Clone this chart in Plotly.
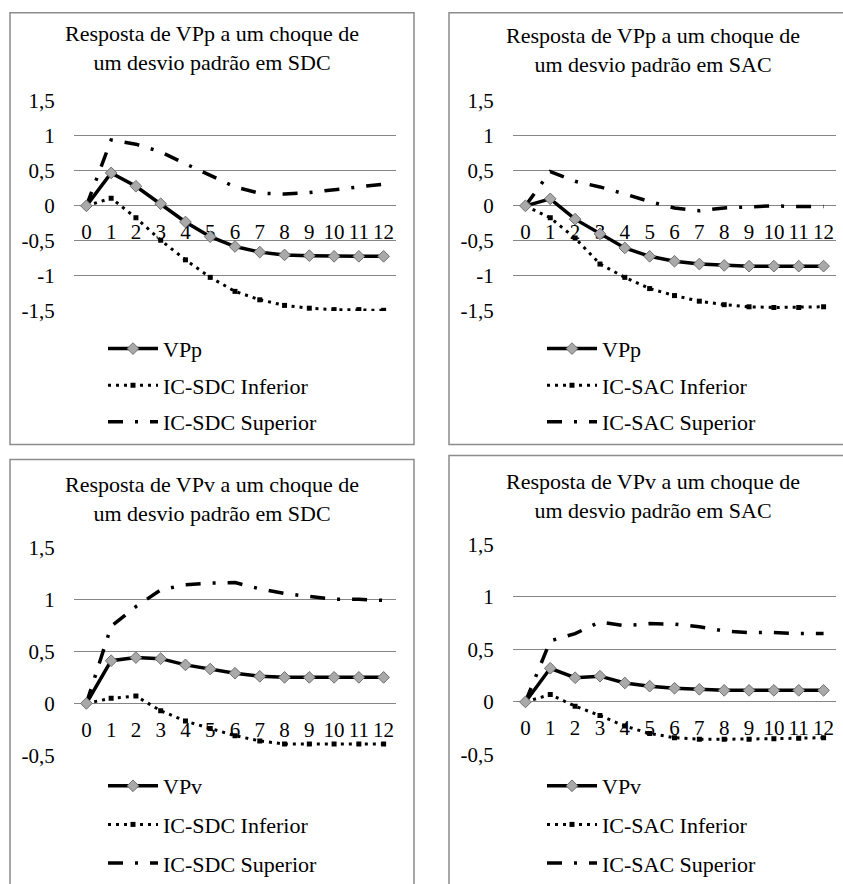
import plotly.graph_objects as go

# Periods after the shock
periods = list(range(13))
period_labels = [str(p) for p in periods]

# Impulse responses of VPp (top row) and VPv (bottom row)
vpp_sdc = [0, 0.47, 0.28, 0.03, -0.23, -0.44, -0.58, -0.66, -0.70, -0.71, -0.72, -0.72, -0.72]
ic_sdc_inf_p = [0, 0.11, -0.17, -0.49, -0.77, -1.02, -1.22, -1.34, -1.42, -1.46, -1.48, -1.48, -1.49]
ic_sdc_sup_p = [0, 0.94, 0.88, 0.77, 0.60, 0.44, 0.27, 0.18, 0.17, 0.19, 0.23, 0.27, 0.31]

vpp_sac = [0, 0.10, -0.19, -0.40, -0.60, -0.72, -0.79, -0.83, -0.85, -0.86, -0.86, -0.86, -0.86]
ic_sac_inf_p = [0, -0.17, -0.46, -0.83, -1.02, -1.18, -1.28, -1.36, -1.41, -1.44, -1.45, -1.45, -1.44]
ic_sac_sup_p = [0, 0.49, 0.35, 0.27, 0.17, 0.06, -0.03, -0.07, -0.03, -0.01, 0.0, -0.01, -0.01]

vpv_sdc = [0, 0.41, 0.44, 0.43, 0.37, 0.33, 0.29, 0.26, 0.25, 0.25, 0.25, 0.25, 0.25]
ic_sdc_inf_v = [0, 0.05, 0.07, -0.07, -0.17, -0.24, -0.31, -0.36, -0.39, -0.39, -0.39, -0.39, -0.39]
ic_sdc_sup_v = [0, 0.74, 0.93, 1.09, 1.14, 1.155, 1.16, 1.10, 1.055, 1.025, 1.0, 1.0, 0.99]

vpv_sac = [0, 0.32, 0.23, 0.245, 0.18, 0.15, 0.13, 0.12, 0.11, 0.11, 0.11, 0.11, 0.11]
ic_sac_inf_v = [0, 0.07, -0.04, -0.13, -0.23, -0.30, -0.34, -0.355, -0.355, -0.355, -0.35, -0.345, -0.34]
ic_sac_sup_v = [0, 0.58, 0.65, 0.76, 0.725, 0.745, 0.74, 0.715, 0.675, 0.66, 0.66, 0.65, 0.65]

# Value-axis ticks (decimal comma)
ticks_top = [-1.5, -1, -0.5, 0, 0.5, 1, 1.5]
ticks_top_text = ["-1,5", "-1", "-0,5", "0", "0,5", "1", "1,5"]
ticks_bottom = [-0.5, 0, 0.5, 1, 1.5]
ticks_bottom_text = ["-0,5", "0", "0,5", "1", "1,5"]

titles = [
    "Resposta de VPp a um choque de<br>um desvio padrão em SDC",
    "Resposta de VPp a um choque de<br>um desvio padrão em SAC",
    "Resposta de VPv a um choque de<br>um desvio padrão em SDC",
    "Resposta de VPv a um choque de<br>um desvio padrão em SAC",
]
resp_names = ["VPp", "VPp", "VPv", "VPv"]
shock_names = ["SDC", "SAC", "SDC", "SAC"]

W, H = 843, 884
FONT = "Liberation Serif, Times New Roman, Tinos, DejaVu Serif, Noto Serif, serif"
GRID = "#868686"


def px_x(v):
    return v / W


def px_y(v):
    return 1 - v / H


# pixel geometry of each chart: plot area (x0, x1, top, bottom), frame, title centre, legend top-left
panels = [
    dict(resp=vpp_sdc, inf=ic_sdc_inf_p, sup=ic_sdc_sup_p, yr=(-1.5, 1.5), tv=ticks_top, tt=ticks_top_text,
         plot=(74, 396, 91.3, 307.7), box=(10, 414, 0.8, 445), title_y=37, legend=(103, 325), gap=5),
    dict(resp=vpp_sac, inf=ic_sac_inf_p, sup=ic_sac_sup_p, yr=(-1.5, 1.5), tv=ticks_top, tt=ticks_top_text,
         plot=(513, 836, 91.3, 307.7), box=(449, 870, 0.8, 445), title_y=39, legend=(542, 325), gap=5),
    dict(resp=vpv_sdc, inf=ic_sdc_inf_v, sup=ic_sdc_sup_v, yr=(-0.5, 1.5), tv=ticks_bottom, tt=ticks_bottom_text,
         plot=(74, 396, 550.8, 765.1), box=(10, 414, 460.5, 900), title_y=501, legend=(103, 775), gap=7),
    dict(resp=vpv_sac, inf=ic_sac_inf_v, sup=ic_sac_sup_v, yr=(-0.5, 1.5), tv=ticks_bottom, tt=ticks_bottom_text,
         plot=(513, 836, 547.7, 764.1), box=(449, 870, 456.4, 900), title_y=498, legend=(542, 775), gap=7),
]

fig = go.Figure()
layout = dict(
    width=W, height=H, autosize=False,
    margin=dict(l=0, r=0, t=0, b=0),
    paper_bgcolor="white", plot_bgcolor="white",
    font=dict(family=FONT, size=21, color="black"),
    annotations=[], shapes=[],
)

for i, p in enumerate(panels, start=1):
    sfx = "" if i == 1 else str(i)
    xa, ya = "x" + sfx, "y" + sfx
    leg = "legend" + sfx
    x0, x1, y0, y1 = p["plot"]
    ymin, ymax = p["yr"]
    ydom = [px_y(y1), px_y(y0)]
    zero_pos = ydom[0] + (0 - ymin) / (ymax - ymin) * (ydom[1] - ydom[0])

    # response with diamond markers, drawn above the confidence bands
    fig.add_trace(go.Scatter(
        x=periods, y=p["resp"], xaxis=xa, yaxis=ya, legend=leg, legendgroup="r%d" % i, zorder=2,
        name=resp_names[i - 1], mode="lines+markers",
        line=dict(color="black", width=3.5),
        marker=dict(symbol="diamond", size=9, color="#a9a9a9", line=dict(color="#707070", width=1)),
    ))
    fig.add_trace(go.Scatter(
        x=periods, y=p["inf"], xaxis=xa, yaxis=ya, legend=leg, legendgroup="i%d" % i, zorder=1,
        name="IC-%s Inferior" % shock_names[i - 1], mode="lines+markers",
        line=dict(color="black", width=3, dash="3px,5px"),
        marker=dict(symbol="square", size=5, color="black"),
    ))
    fig.add_trace(go.Scatter(
        x=periods, y=p["sup"], xaxis=xa, yaxis=ya, legend=leg, legendgroup="s%d" % i, zorder=1,
        name="IC-%s Superior" % shock_names[i - 1], mode="lines",
        line=dict(color="black", width=3.5, dash="15px,12px,3px,12px"),
    ))

    layout["xaxis" + sfx] = dict(
        domain=[px_x(x0), px_x(x1)], range=[-0.5, 12.5],
        tickvals=periods, ticktext=period_labels,
        anchor="free", position=zero_pos,
        showgrid=False, zeroline=False, showline=False,
        ticks="outside", ticklen=7, tickcolor="rgba(0,0,0,0)",
        tickfont=dict(family=FONT, size=21, color="black"),
    )
    layout["yaxis" + sfx] = dict(
        domain=ydom, range=[ymin, ymax], anchor=xa,
        tickvals=p["tv"], ticktext=p["tt"],
        showgrid=True, gridcolor=GRID, gridwidth=1, zeroline=False,
        showline=True, linecolor=GRID, linewidth=1,
        ticks="outside", ticklen=14, tickcolor="rgba(0,0,0,0)",
        tickfont=dict(family=FONT, size=21, color="black"),
    )
    lx, ly = p["legend"]
    layout[leg] = dict(
        x=px_x(lx), y=px_y(ly), xanchor="left", yanchor="top",
        bgcolor="rgba(0,0,0,0)", borderwidth=0, itemwidth=50,
        tracegroupgap=p["gap"], traceorder="grouped",
        font=dict(family=FONT, size=22, color="black"),
    )
    bx0, bx1, by0, by1 = p["box"]
    layout["shapes"].append(dict(
        type="rect", xref="paper", yref="paper",
        x0=px_x(bx0), x1=px_x(bx1), y0=px_y(by1), y1=px_y(by0),
        line=dict(color="#8c8c8c", width=1.5), fillcolor="rgba(0,0,0,0)", layer="below",
    ))
    layout["annotations"].append(dict(
        text=titles[i - 1], xref="paper", yref="paper",
        x=px_x((bx0 + min(bx1, 856)) / 2), y=px_y(p["title_y"]),
        xanchor="center", yanchor="middle", showarrow=False, align="center",
        font=dict(family=FONT, size=22, color="black"),
    ))

fig.update_layout(**layout)
fig.write_html("out.html")
